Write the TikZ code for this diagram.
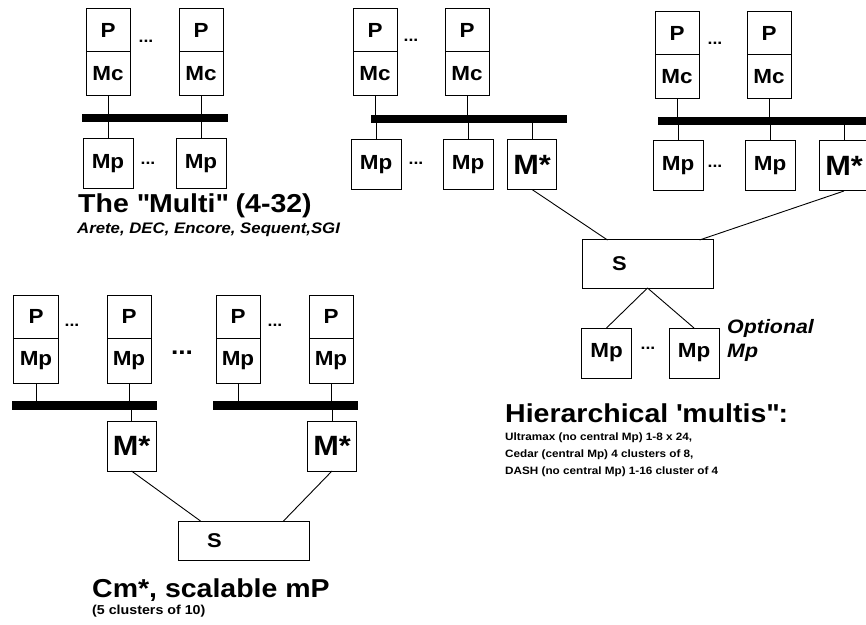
\documentclass[tikz,border=0pt]{standalone}
\usepackage{fontspec}
\setmainfont[FakeStretch=1.1]{Liberation Sans}
\usetikzlibrary{positioning}

\newcommand\cellfont{\fontsize{20.5}{23}\selectfont\bfseries}
\newcommand\mstarfont{\fontsize{28}{32}\selectfont\bfseries}
\newcommand\swfont{\fontsize{20}{22}\selectfont\bfseries}
\newcommand\dotsfont{\fontsize{16}{18}\selectfont\bfseries}
\newcommand\bigdotsfont{\fontsize{24}{26}\selectfont\bfseries}
\newcommand\headingfont{\fontsize{26}{30}\selectfont\bfseries}
\newcommand\subtitlefont{\fontsize{15.3}{18}\selectfont\bfseries\itshape}
\newcommand\parenfont{\fontsize{13}{15}\selectfont\bfseries}
\newcommand\listfont{\fontsize{10.7}{12}\selectfont\bfseries}
\newcommand\optfont{\fontsize{19.5}{22}\selectfont\bfseries\itshape}

\begin{document}
\begin{tikzpicture}[x=1bp,y=-1bp,
    cell/.style={draw, line width=1bp, inner sep=0pt, outer sep=0pt, font=\cellfont},
    pcell/.style={cell, minimum width=44bp, minimum height=43bp},
    ccell/.style={cell, minimum width=44bp, minimum height=44bp},
    mem/.style={cell, minimum width=50bp, minimum height=50bp},
    mstar/.style={cell, minimum width=49bp, minimum height=50bp, font=\mstarfont},
    swbox/.style={cell, minimum width=131bp, text width=71bp, inner xsep=30bp, align=left, font=\swfont},
    bus/.style={fill=black, inner sep=0pt, outer sep=0pt, minimum height=8bp},
    link/.style={line width=0.9bp},
    dots/.style={inner sep=0pt, font=\dotsfont},
    heading/.style={anchor=base west, inner sep=0pt, font=\headingfont},
    subtitle/.style={anchor=base west, inner sep=0pt, font=\subtitlefont},
    listline/.style={anchor=base west, inner sep=0pt, font=\listfont}]

    \fill[white] (0,0) rectangle (866,625);
    \useasboundingbox (0,0) rectangle (866,625);

    % ========== THE "MULTI" ==========
    \node[pcell] (mP1) at (108,30.5) {P};
    \node[ccell, below=0pt of mP1] (mMc1) {Mc};
    \node[pcell] (mP2) at (201,30.5) {P};
    \node[ccell, below=0pt of mP2] (mMc2) {Mc};
    \node[dots] (mD1) at (146,41) {...};

    \node[bus, minimum width=146bp] (mBus) at (155,118) {};

    \node[mem] (mMp1) at (108,164) {Mp};
    \node[mem] (mMp2) at (201,164) {Mp};
    \node[dots] (mD2) at (148,163) {...};

    \foreach \n in {mMc1,mMc2}
        \draw[link] (\n.south) -- (\n.south |- mBus.north);
    \foreach \n in {mMp1,mMp2}
        \draw[link] (\n.north) -- (\n.north |- mBus.south);

    \node[heading] (mTitle) at (78,213) {The \textquotedbl Multi\textquotedbl{} (4-32)};
    \node[subtitle] (mSub) at (77,234) {Arete, DEC, Encore, Sequent,SGI};

    % ========== HIERARCHICAL: cluster A ==========
    \node[pcell] (aP1) at (375,30.5) {P};
    \node[ccell, below=0pt of aP1] (aMc1) {Mc};
    \node[pcell] (aP2) at (467,30.5) {P};
    \node[ccell, below=0pt of aP2] (aMc2) {Mc};
    \node[dots] (aD1) at (411,40) {...};

    \node[bus, minimum width=196bp] (aBus) at (469,119) {};

    \node[mem] (aMp1) at (376,164.5) {Mp};
    \node[mem] (aMp2) at (468,164.5) {Mp};
    \node[mstar] (aM) at (532,164.5) {M*};
    \node[dots] (aD2) at (416,163) {...};

    \foreach \n in {aMc1,aMc2}
        \draw[link] (\n.south) -- (\n.south |- aBus.north);
    \foreach \n in {aMp1,aMp2,aM}
        \draw[link] (\n.north) -- (\n.north |- aBus.south);

    % ========== HIERARCHICAL: cluster B ==========
    \node[pcell] (bP1) at (677,33.5) {P};
    \node[ccell, below=0pt of bP1] (bMc1) {Mc};
    \node[pcell] (bP2) at (769,33.5) {P};
    \node[ccell, below=0pt of bP2] (bMc2) {Mc};
    \node[dots] (bD1) at (715,43) {...};

    \node[bus, minimum width=208bp] (bBus) at (762,121) {};

    \node[mem] (bMp1) at (678,166) {Mp};
    \node[mem] (bMp2) at (770,166) {Mp};
    \node[mstar] (bM) at (844,166) {M*};
    \node[dots] (bD2) at (715,166) {...};

    \foreach \n in {bMc1,bMc2}
        \draw[link] (\n.south) -- (\n.south |- bBus.north);
    \foreach \n in {bMp1,bMp2,bM}
        \draw[link] (\n.north) -- (\n.north |- bBus.south);

    % Switch and optional central memory
    \node[swbox, minimum height=48bp] (hS) at (647.5,264) {S};
    \draw[link] (aM.south) -- ([xshift=-40bp]hS.north);
    \draw[link] (bM.south) -- ([xshift=52bp]hS.north);

    \node[mem] (hMp1) at (606.5,353) {Mp};
    \node[mem] (hMp2) at (694,353) {Mp};
    \node[dots] (hD) at (648,348) {...};
    \draw[link] (hS.south) -- (hMp1.north);
    \draw[link] (hS.south) -- (hMp2.north);

    \node[anchor=base west, inner sep=0pt, font=\optfont] (hOpt1) at (727,333) {Optional};
    \node[anchor=base west, inner sep=0pt, font=\optfont] (hOpt2) at (727,357) {Mp};

    \node[heading] (hTitle) at (505,422) {Hierarchical \textquotesingle multis\textquotedbl:};
    \node[listline] (hL1) at (505,440) {Ultramax (no central Mp) 1-8 x 24,};
    \node[listline] (hL2) at (505,457) {Cedar (central Mp) 4 clusters of 8,};
    \node[listline] (hL3) at (505,474) {DASH (no central Mp) 1-16 cluster of 4};

    % ========== Cm* ==========
    \node[pcell] (cP1) at (36,316.5) {P};
    \node[pcell, minimum height=45bp, below=0pt of cP1] (cMp1) {Mp};
    \node[pcell] (cP2) at (129,316.5) {P};
    \node[pcell, minimum height=45bp, below=0pt of cP2] (cMp2) {Mp};
    \node[pcell] (cP3) at (238,316.5) {P};
    \node[pcell, minimum height=45bp, below=0pt of cP3] (cMp3) {Mp};
    \node[pcell] (cP4) at (331,316.5) {P};
    \node[pcell, minimum height=45bp, below=0pt of cP4] (cMp4) {Mp};
    \node[dots] (cD1) at (72,325) {...};
    \node[dots] (cD2) at (275,325) {...};
    \node[dots, font=\bigdotsfont] (cD3) at (182,353) {...};

    \node[bus, minimum width=145bp, minimum height=9bp] (cBus1) at (84.5,405.5) {};
    \node[bus, minimum width=145bp, minimum height=9bp] (cBus2) at (285.5,405.5) {};

    \foreach \n in {cMp1,cMp2}
        \draw[link] (\n.south) -- (\n.south |- cBus1.north);
    \foreach \n in {cMp3,cMp4}
        \draw[link] (\n.south) -- (\n.south |- cBus2.north);

    \node[mstar] (cM1) at (131.5,446) {M*};
    \node[mstar] (cM2) at (332,446) {M*};
    \draw[link] (cM1.north) -- (cM1.north |- cBus1.south);
    \draw[link] (cM2.north) -- (cM2.north |- cBus2.south);

    \node[swbox, minimum height=39bp, inner xsep=29bp, text width=73bp] (cS) at (243.5,540.5) {S};
    \draw[link] (cM1.south) -- ([xshift=-43bp]cS.north);
    \draw[link] (cM2.south) -- ([xshift=40bp]cS.north);

    \node[heading] (cTitle) at (92,597) {Cm*, scalable mP};
    \node[anchor=base west, inner sep=0pt, font=\parenfont] (cSub) at (92,614) {(5 clusters of 10)};

\end{tikzpicture}
\end{document}
